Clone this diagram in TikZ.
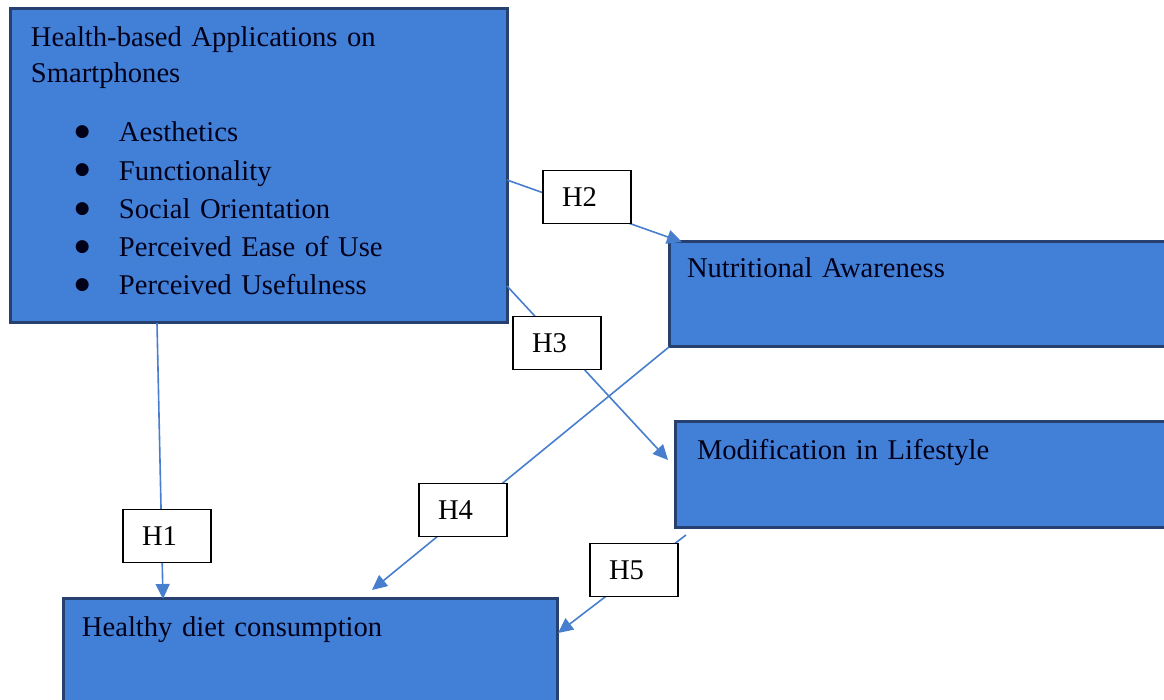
\documentclass[tikz,border=0pt]{standalone}
\usepackage{fontspec}
\setmainfont{Liberation Serif}
\newfontfamily\symbfont{DejaVu Sans}
\usetikzlibrary{arrows.meta,calc}

\definecolor{boxfill}{RGB}{66,128,216}
\definecolor{boxline}{RGB}{38,64,112}
\definecolor{linkblue}{RGB}{72,126,206}

\newcommand{\listdot}{\hspace*{22pt}\makebox[22pt][l]{\raisebox{2.6pt}{\symbfont\fontsize{8.5pt}{10pt}\selectfont ●}}}

\begin{document}
\begin{tikzpicture}[x=0.5pt, y=-0.5pt,
    every node/.style={font=\fontsize{14.3pt}{18pt}\selectfont},
    factor/.style={draw=boxline, fill=boxfill, line width=1.5pt, anchor=north west,
      align=left, inner ysep=0pt, outer sep=0pt, text=black!90!blue},
    hyp/.style={draw=black, fill=white, line width=0.75pt, minimum height=26.5pt,
      text width=25pt, inner xsep=9.5pt, align=left},
    link/.style={draw=linkblue, line width=0.8pt, -{Triangle[length=7.5pt, width=7pt]}}]

  \clip (0,0) rectangle (1164,700);

  % factors
  \node[factor, text width=227.5pt, inner xsep=10.5pt, text height=19pt, text depth=138pt]
    (apps) at (10,9) {Health-based Applications on\\
      Smartphones\\[11.5pt]
      \listdot Aesthetics\\[1.1pt]
      \listdot Functionality\\[1.1pt]
      \listdot Social Orientation\\[1.1pt]
      \listdot Perceived Ease of Use\\[1.1pt]
      \listdot Perceived Usefulness};
  \node[factor, text width=243pt, inner xsep=9pt, text height=18pt, text depth=34.5pt]
    (aware) at (669,242) {Nutritional Awareness};
  \node[factor, text width=238pt, inner xsep=11pt, text height=19pt, text depth=34pt]
    (life) at (675,422) {Modification in Lifestyle};
  \node[factor, text width=228pt, inner xsep=9.5pt, text height=19pt, text depth=40pt]
    (diet) at (63,599) {Healthy diet consumption};

  % paths
  \draw[link] ($(apps.south west)+(147,0)$) -- ($(diet.north west)+(100,0)$);
  \draw[link] ($(apps.north east)+(0,171)$) -- ($(aware.north west)+(13,0)$);
  \draw[link] ($(apps.north east)+(0,277)$) -- ($(life.north west)+(-7,38)$);
  \draw[link] (aware.south west) -- ($(diet.north west)+(309,-9)$);
  \draw[link] ($(life.south west)+(11,7)$) -- ($(diet.north east)+(1,34)$);

  % hypotheses
  \foreach \n/\x/\y in {1/167/536, 2/587/197, 3/557/343, 4/463/510, 5/634/570} {
    \node[hyp] (H\n) at (\x,\y) {H\n};
  }
\end{tikzpicture}
\end{document}
